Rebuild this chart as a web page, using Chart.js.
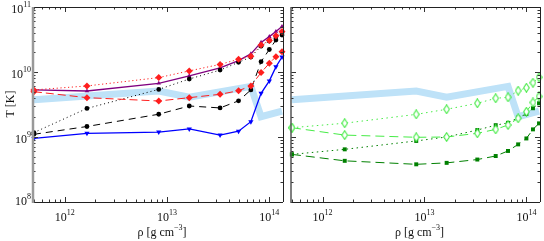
<!DOCTYPE html>
<html>
<head>
<meta charset="utf-8">
<script src="https://cdn.jsdelivr.net/npm/chart.js@4.4.0/dist/chart.umd.min.js"></script>
<style>
html, body { margin: 0; padding: 0; background: #fff; }
#wrap { position: relative; width: 544px; height: 241px; }
canvas { position: absolute; top: 0; }
</style>
</head>
<body>
<div id="wrap">
  <canvas id="left" width="287" height="241" style="left:0"></canvas>
  <canvas id="right" width="257" height="241" style="left:287px"></canvas>
</div>
<script>
// density grid shared by all model curves (g cm^-3)
const rho = [5e11, 1.65e12, 8.3e12, 1.65e13, 3.3e13, 5e13, 6.6e13, 8.3e13, 1e14, 1.16e14, 1.33e14];

// left panel temperatures (K)
const purpleT    = [5.3e9, 5.1e9, 6.7e9, 8.7e9, 1.16e10, 1.5e10, 1.9e10, 2.85e10, 3.5e10, 4.2e10, 5.0e10];
const redDotT    = [5.3e9, 6.1e9, 8.2e9, 1.04e10, 1.31e10, 1.57e10, 1.75e10, 2.6e10, 3.05e10, 3.6e10, 4.2e10];
const redDashT   = [4.98e9, 4.03e9, 3.58e9, 4.03e9, 4.54e9, 5.15e9, 6.1e9, 9.8e9, 1.36e10, 1.72e10, 2.05e10];
const blackDotT  = [1.17e9, 2.75e9, 5.4e9, 7.8e9, 1.07e10, 1.41e10, 1.7e10, 2.5e10, 3.0e10, 3.5e10, 4.0e10];
const blackDashT = [1.1e9, 1.45e9, 2.24e9, 3.0e9, 2.8e9, 3.6e9, 5.3e9, 1.44e10, 2.22e10, 3.1e10, 3.7e10];
const blueT      = [9.5e8, 1.14e9, 1.19e9, 1.33e9, 1.07e9, 1.23e9, 1.72e9, 4.7e9, 7.3e9, 1.2e10, 1.7e10];

// right panel temperatures (K)
const ltGreenDotT  = [1.39e9, 1.63e9, 2.23e9, 2.67e9, 3.3e9, 3.94e9, 4.08e9, 5.16e9, 5.73e9, 6.84e9, 8.3e9];
const ltGreenDashT = [1.39e9, 1.07e9, 9.9e8, 1.0e9, 1.14e9, 1.31e9, 1.53e9, 1.94e9, 2.45e9, 3.4e9, 4.2e9];
const dkGreenDotT  = [5.4e8, 6.46e8, 8.7e8, 1.0e9, 1.28e9, 1.52e9, 1.65e9, 1.99e9, 2.26e9, 2.77e9, 3.3e9];
const dkGreenDashT = [5.4e8, 4.3e8, 3.8e8, 4.0e8, 4.5e8, 5.1e8, 6.1e8, 7.7e8, 9.5e8, 1.31e9, 1.62e9];

// broad light-blue reference curve (both panels)
const bandRho = [5e11, 8.3e12, 1.65e13, 6.6e13, 8.3e13, 1.33e14];
const bandT   = [3.75e9, 5.1e9, 4.1e9, 6.0e9, 2.05e9, 2.5e9];

const xTicks = [12, 13, 14];      // decade exponents labelled on x
const yTicks = [8, 9, 10, 11];    // decade exponents labelled on y

const FONT = '"Liberation Serif", "DejaVu Serif", serif';

function pts(xs, ys) {
    return xs.map((v, i) => ({x: v, y: ys[i]}));
}

// tall open diamond used for the light green curves
function tallDiamond(color) {
    const c = document.createElement('canvas');
    c.width = 7; c.height = 10;
    const g = c.getContext('2d');
    g.beginPath();
    g.moveTo(3.5, 0.7); g.lineTo(6.3, 5); g.lineTo(3.5, 9.3); g.lineTo(0.7, 5); g.closePath();
    g.fillStyle = '#fff'; g.fill();
    g.strokeStyle = color; g.lineWidth = 1.1; g.stroke();
    return c;
}

function series(xs, ys, color, dash, style, radius, extra) {
    return Object.assign({
        data: pts(xs, ys),
        borderColor: color,
        backgroundColor: color,
        borderWidth: 1,
        borderDash: dash,
        pointStyle: style,
        pointRadius: radius,
        pointBorderWidth: 0,
        pointBackgroundColor: color,
        clip: false,
        order: 1
    }, extra || {});
}

function band() {
    return {
        data: pts(bandRho, bandT),
        borderColor: 'rgb(190,226,248)',
        borderWidth: 7,
        pointRadius: 0,
        borderJoinStyle: 'miter',
        order: 10
    };
}

function drawPow(ctx, x, yBase, exp, align) {
    ctx.font = '12px ' + FONT;
    const w10 = ctx.measureText('10').width;
    ctx.font = '8px ' + FONT;
    const wE = ctx.measureText(String(exp)).width;
    const total = w10 + wE;
    let x0 = align === 'right' ? x - total : x - total / 2;
    ctx.textAlign = 'left';
    ctx.textBaseline = 'alphabetic';
    ctx.font = '12px ' + FONT;
    ctx.fillText('10', x0, yBase);
    ctx.font = '8px ' + FONT;
    ctx.fillText(String(exp), x0 + w10, yBase - 6);
}

const frame = {
    id: 'frame',
    afterDraw(chart, args, opts) {
        const {ctx, chartArea: a} = chart;
        const x = chart.scales.x, y = chart.scales.y;
        ctx.save();
        ctx.strokeStyle = '#333';
        ctx.lineWidth = 1;
        const seg = (x1, y1, x2, y2) => { ctx.beginPath(); ctx.moveTo(x1, y1); ctx.lineTo(x2, y2); ctx.stroke(); };
        for (let e = 11; e <= 14; e++) {
            for (let m = 1; m <= 9; m++) {
                const v = m * Math.pow(10, e);
                if (v < x.min || v > x.max) continue;
                const px = Math.round(x.getPixelForValue(v)) + 0.5;
                const len = m === 1 ? 5 : 2.5;
                seg(px, a.bottom, px, a.bottom - len);
                seg(px, a.top, px, a.top + len);
            }
        }
        for (let e = 8; e <= 11; e++) {
            for (let m = 1; m <= 9; m++) {
                const v = m * Math.pow(10, e);
                if (v < y.min || v > y.max) continue;
                const py = Math.round(y.getPixelForValue(v)) + 0.5;
                const len = m === 1 ? 5 : 2.5;
                seg(a.left, py, a.left + len, py);
                seg(a.right, py, a.right - len, py);
            }
        }
        // frame
        ctx.strokeStyle = '#222';
        seg(a.left, a.top + 0.5, a.right, a.top + 0.5);
        seg(a.left, a.bottom + 0.5, a.right, a.bottom + 0.5);
        seg(a.right + 0.5, a.top, a.right + 0.5, a.bottom);
        ctx.strokeStyle = opts.leftColor;
        ctx.lineWidth = opts.leftWidth;
        seg(a.left, a.top, a.left, a.bottom + 1);

        ctx.fillStyle = '#111';
        xTicks.forEach(e => drawPow(ctx, x.getPixelForValue(Math.pow(10, e)), 221, e, 'center'));
        if (opts.yLabels) {
            yTicks.forEach(e => {
                const py = y.getPixelForValue(Math.pow(10, e));
                drawPow(ctx, a.left - 2, Math.min(py + 6, 205), e, 'right');
            });
            ctx.save();
            ctx.translate(11, 104);
            ctx.rotate(-Math.PI / 2);
            ctx.font = '12px ' + FONT;
            ctx.textAlign = 'center';
            ctx.textBaseline = 'middle';
            ctx.fillText('T [K]', 0, 0);
            ctx.restore();
        }
        // x title: ρ [g cm^-3]
        ctx.font = '12px ' + FONT;
        const t1 = 'ρ [g cm', t3 = ']';
        const w1 = ctx.measureText(t1).width, w3 = ctx.measureText(t3).width;
        ctx.font = '8px ' + FONT;
        const t2 = '−3', w2 = ctx.measureText(t2).width;
        let cx = (a.left + a.right) / 2 + 4 - (w1 + w2 + w3) / 2;
        ctx.textAlign = 'left';
        ctx.font = '12px ' + FONT;
        ctx.fillText(t1, cx, 236);
        ctx.font = '8px ' + FONT;
        ctx.fillText(t2, cx + w1, 230);
        ctx.font = '12px ' + FONT;
        ctx.fillText(t3, cx + w1 + w2, 236);
        ctx.restore();
    }
};

function makeChart(id, datasets, pad, opts) {
    return new Chart(document.getElementById(id), {
        type: 'line',
        data: {datasets: datasets},
        options: {
            responsive: false,
            animation: false,
            layout: {padding: pad},
            plugins: {legend: {display: false}, tooltip: {enabled: false}, frame: opts},
            elements: {line: {tension: 0}},
            scales: {
                x: {type: 'logarithmic', min: 4.9e11, max: 1.36e14, display: false},
                y: {type: 'logarithmic', min: 1e8, max: 1e11, display: false}
            }
        },
        plugins: [frame]
    });
}

const lightGreen = 'rgb(70,235,70)';
const darkGreen = 'rgb(0,128,0)';
const diamond = tallDiamond(lightGreen);

makeChart('left', [
    band(),
    series(rho, redDotT, 'rgb(255,30,30)', [1.2, 2.6], 'rectRot', 3.5),
    series(rho, redDashT, 'rgb(255,30,30)', [8, 4], 'rectRot', 3.5),
    series(rho, blackDotT, '#000', [1, 3], 'circle', 2.4),
    series(rho, blackDashT, '#000', [7, 5], 'circle', 2.4),
    series(rho, purpleT, 'rgb(128,0,128)', [], 'triangle', 2.6, {borderWidth: 1.3}),
    series(rho, blueT, 'rgb(0,0,255)', [], 'triangle', 3, {borderWidth: 1.3, pointRotation: 180})
], {left: 33, right: 4, top: 7, bottom: 39}, {yLabels: true, leftColor: '#999', leftWidth: 2.5});

makeChart('right', [
    band(),
    series(rho, ltGreenDotT, lightGreen, [1.5, 3.5], diamond, 4),
    series(rho, ltGreenDashT, lightGreen, [9, 5], diamond, 4),
    series(rho, dkGreenDotT, darkGreen, [1.5, 3.5], 'rect', 2.8),
    series(rho, dkGreenDashT, darkGreen, [9, 5], 'rect', 2.8)
], {left: 4, right: 3, top: 7, bottom: 39}, {yLabels: false, leftColor: '#555', leftWidth: 1.5});
</script>
</body>
</html>
